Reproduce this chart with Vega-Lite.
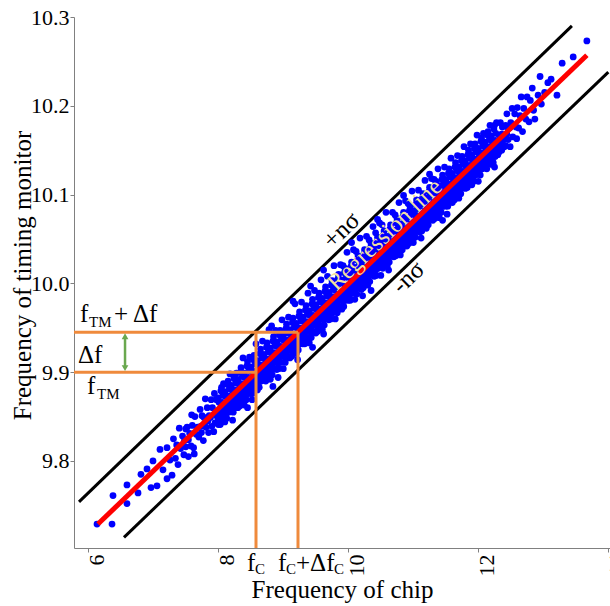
{
"$schema":"https://vega.github.io/schema/vega-lite/v6.json",
"width":536,"height":531,
"autosize":{"type":"none"},
"padding":{"left":74,"top":17,"right":0,"bottom":58},
"background":"white",
"config":{"view":{"stroke":null},"font":"Liberation Serif","text":{"font":"Liberation Serif"}},
"datasets":{
"pts":[
{"x":6.134,"y":9.729},{"x":6.365,"y":9.729},{"x":6.38,"y":9.761},{"x":6.595,"y":9.773},{"x":6.595,"y":9.752},{"x":6.765,"y":9.764},{"x":6.81,"y":9.785},{"x":6.903,"y":9.791},{"x":6.965,"y":9.770},{"x":6.995,"y":9.800},{"x":7.057,"y":9.772},{"x":7.103,"y":9.813},{"x":7.149,"y":9.790},{"x":7.211,"y":9.780},{"x":7.211,"y":9.815},{"x":7.288,"y":9.784},{"x":7.257,"y":9.801},
{"x":7.31,"y":9.825},{"x":7.34,"y":9.803},{"x":7.36,"y":9.818},{"x":7.38,"y":9.796},
{"x":7.40,"y":9.837},{"x":7.42,"y":9.814},{"x":7.45,"y":9.828},{"x":7.47,"y":9.807},{"x":7.48,"y":9.823},
{"x":7.50,"y":9.816},{"x":7.52,"y":9.838},{"x":7.54,"y":9.805},{"x":7.56,"y":9.831},{"x":7.58,"y":9.817},{"x":7.59,"y":9.852},{"x":7.54,"y":9.824},{"x":7.50,"y":9.836},
{"x":7.60,"y":9.840},{"x":7.62,"y":9.815},{"x":7.63,"y":9.808},{"x":7.64,"y":9.850},{"x":7.66,"y":9.830},{"x":7.68,"y":9.838},
{"x":7.70,"y":9.827},{"x":7.72,"y":9.858},{"x":7.73,"y":9.839},{"x":7.75,"y":9.851},{"x":7.77,"y":9.823},{"x":7.78,"y":9.849},{"x":7.74,"y":9.832},
{"x":7.80,"y":9.870},{"x":7.81,"y":9.838},{"x":7.83,"y":9.860},{"x":7.85,"y":9.832},{"x":7.86,"y":9.851},{"x":7.88,"y":9.849},{"x":7.89,"y":9.869},{"x":7.84,"y":9.845},
{"x":7.90,"y":9.839},{"x":7.91,"y":9.860},{"x":7.93,"y":9.833},{"x":7.94,"y":9.876},{"x":7.96,"y":9.852},{"x":7.97,"y":9.869},{"x":7.99,"y":9.849},{"x":7.95,"y":9.843},
{"x":8.00,"y":9.841},{"x":8.01,"y":9.866},{"x":8.03,"y":9.853},{"x":8.04,"y":9.879},{"x":8.05,"y":9.861},{"x":8.06,"y":9.848},{"x":8.07,"y":9.874},{"x":8.09,"y":9.860},{"x":8.08,"y":9.887},
{"x":8.10,"y":9.844},{"x":8.11,"y":9.873},{"x":8.13,"y":9.860},{"x":8.14,"y":9.886},{"x":8.15,"y":9.868},{"x":8.16,"y":9.855},{"x":8.17,"y":9.881},{"x":8.19,"y":9.867},{"x":8.18,"y":9.898},
{"x":8.20,"y":9.857},{"x":8.21,"y":9.880},{"x":8.23,"y":9.867},{"x":8.24,"y":9.893},{"x":8.25,"y":9.875},{"x":8.26,"y":9.862},{"x":8.27,"y":9.888},{"x":8.29,"y":9.874},{"x":8.28,"y":9.899},{"x":8.22,"y":9.846},
{"x":8.30,"y":9.860},{"x":8.31,"y":9.887},{"x":8.33,"y":9.874},{"x":8.34,"y":9.900},{"x":8.35,"y":9.883},{"x":8.36,"y":9.869},{"x":8.37,"y":9.895},{"x":8.39,"y":9.881},{"x":8.38,"y":9.916},
{"x":8.40,"y":9.863},{"x":8.41,"y":9.894},{"x":8.43,"y":9.881},{"x":8.44,"y":9.907},{"x":8.45,"y":9.890},{"x":8.46,"y":9.876},{"x":8.47,"y":9.902},{"x":8.49,"y":9.888},{"x":8.48,"y":9.917},
{"x":8.50,"y":9.876},{"x":8.51,"y":9.901},{"x":8.53,"y":9.888},{"x":8.54,"y":9.914},{"x":8.55,"y":9.897},{"x":8.56,"y":9.883},{"x":8.57,"y":9.909},{"x":8.59,"y":9.895},{"x":8.58,"y":9.932},{"x":8.52,"y":9.869},
{"x":8.60,"y":9.880},{"x":8.61,"y":9.908},{"x":8.63,"y":9.895},{"x":8.64,"y":9.921},{"x":8.65,"y":9.904},{"x":8.66,"y":9.890},{"x":8.67,"y":9.916},{"x":8.69,"y":9.902},{"x":8.68,"y":9.935},
{"x":8.70,"y":9.891},{"x":8.71,"y":9.915},{"x":8.73,"y":9.902},{"x":8.74,"y":9.928},{"x":8.75,"y":9.911},{"x":8.76,"y":9.897},{"x":8.77,"y":9.923},{"x":8.79,"y":9.909},{"x":8.78,"y":9.948},
{"x":8.80,"y":9.892},{"x":8.81,"y":9.922},{"x":8.83,"y":9.909},{"x":8.84,"y":9.935},{"x":8.85,"y":9.918},{"x":8.86,"y":9.904},{"x":8.87,"y":9.930},{"x":8.89,"y":9.916},{"x":8.88,"y":9.947},{"x":8.82,"y":9.952},{"x":8.84,"y":9.884},
{"x":8.90,"y":9.903},{"x":8.91,"y":9.929},{"x":8.93,"y":9.916},{"x":8.94,"y":9.942},{"x":8.95,"y":9.925},{"x":8.96,"y":9.911},{"x":8.97,"y":9.937},{"x":8.99,"y":9.923},{"x":8.98,"y":9.959},{"x":8.92,"y":9.894},
{"x":9.00,"y":9.904},{"x":9.01,"y":9.936},{"x":9.03,"y":9.923},{"x":9.04,"y":9.949},{"x":9.05,"y":9.932},{"x":9.06,"y":9.918},{"x":9.07,"y":9.944},{"x":9.09,"y":9.930},{"x":9.08,"y":9.962},
{"x":9.10,"y":9.916},{"x":9.11,"y":9.943},{"x":9.13,"y":9.930},{"x":9.14,"y":9.956},{"x":9.15,"y":9.939},{"x":9.16,"y":9.925},{"x":9.17,"y":9.951},{"x":9.19,"y":9.937},{"x":9.18,"y":9.977},
{"x":9.20,"y":9.921},{"x":9.21,"y":9.950},{"x":9.23,"y":9.937},{"x":9.24,"y":9.963},{"x":9.25,"y":9.946},{"x":9.26,"y":9.932},{"x":9.27,"y":9.958},{"x":9.29,"y":9.944},{"x":9.28,"y":9.979},{"x":9.22,"y":9.914},
{"x":9.30,"y":9.932},{"x":9.31,"y":9.957},{"x":9.33,"y":9.944},{"x":9.34,"y":9.970},{"x":9.35,"y":9.953},{"x":9.36,"y":9.939},{"x":9.37,"y":9.965},{"x":9.39,"y":9.951},{"x":9.38,"y":9.989},
{"x":9.40,"y":9.933},{"x":9.41,"y":9.964},{"x":9.43,"y":9.951},{"x":9.44,"y":9.977},{"x":9.45,"y":9.960},{"x":9.46,"y":9.946},{"x":9.47,"y":9.972},{"x":9.49,"y":9.958},{"x":9.48,"y":9.992},{"x":9.42,"y":9.997},
{"x":9.50,"y":9.944},{"x":9.51,"y":9.971},{"x":9.53,"y":9.958},{"x":9.54,"y":9.984},{"x":9.55,"y":9.967},{"x":9.56,"y":9.953},{"x":9.57,"y":9.979},{"x":9.59,"y":9.966},{"x":9.58,"y":10.004},
{"x":9.60,"y":9.948},{"x":9.61,"y":9.978},{"x":9.63,"y":9.965},{"x":9.64,"y":9.991},{"x":9.65,"y":9.974},{"x":9.66,"y":9.960},{"x":9.67,"y":9.986},{"x":9.69,"y":9.973},{"x":9.68,"y":10.008},{"x":9.62,"y":9.943},
{"x":9.70,"y":9.959},{"x":9.71,"y":9.985},{"x":9.73,"y":9.972},{"x":9.74,"y":9.998},{"x":9.75,"y":9.981},{"x":9.76,"y":9.967},{"x":9.77,"y":9.993},{"x":9.79,"y":9.980},{"x":9.78,"y":10.020},
{"x":9.80,"y":9.960},{"x":9.81,"y":9.992},{"x":9.83,"y":9.979},{"x":9.84,"y":10.005},{"x":9.85,"y":9.988},{"x":9.86,"y":9.974},{"x":9.87,"y":10.000},{"x":9.89,"y":9.987},{"x":9.88,"y":10.021},
{"x":9.90,"y":9.971},{"x":9.91,"y":9.999},{"x":9.93,"y":9.986},{"x":9.94,"y":10.012},{"x":9.95,"y":9.995},{"x":9.96,"y":9.981},{"x":9.97,"y":10.007},{"x":9.99,"y":9.994},{"x":9.98,"y":10.035},{"x":9.92,"y":10.020},
{"x":10.00,"y":9.981},{"x":10.01,"y":10.006},{"x":10.03,"y":9.993},{"x":10.04,"y":10.019},{"x":10.05,"y":10.002},{"x":10.06,"y":9.989},{"x":10.07,"y":10.014},{"x":10.09,"y":10.001},{"x":10.08,"y":10.038},
{"x":10.10,"y":9.982},{"x":10.11,"y":10.013},{"x":10.13,"y":10.000},{"x":10.14,"y":10.026},{"x":10.15,"y":10.009},{"x":10.16,"y":9.996},{"x":10.17,"y":10.021},{"x":10.19,"y":10.008},{"x":10.18,"y":10.051},{"x":10.12,"y":10.036},
{"x":10.20,"y":9.993},{"x":10.21,"y":10.020},{"x":10.23,"y":10.007},{"x":10.24,"y":10.033},{"x":10.25,"y":10.016},{"x":10.26,"y":10.003},{"x":10.27,"y":10.028},{"x":10.29,"y":10.015},{"x":10.28,"y":10.053},{"x":10.22,"y":9.986},
{"x":10.30,"y":9.998},{"x":10.31,"y":10.027},{"x":10.33,"y":10.014},{"x":10.34,"y":10.040},{"x":10.35,"y":10.023},{"x":10.36,"y":10.010},{"x":10.37,"y":10.035},{"x":10.39,"y":10.022},{"x":10.38,"y":10.064},{"x":10.32,"y":10.049},
{"x":10.40,"y":10.008},{"x":10.41,"y":10.034},{"x":10.43,"y":10.021},{"x":10.44,"y":10.047},{"x":10.45,"y":10.030},{"x":10.46,"y":10.017},{"x":10.47,"y":10.042},{"x":10.49,"y":10.029},{"x":10.48,"y":10.068},{"x":10.42,"y":10.057},
{"x":10.50,"y":10.009},{"x":10.51,"y":10.041},{"x":10.53,"y":10.029},{"x":10.54,"y":10.054},{"x":10.55,"y":10.037},{"x":10.56,"y":10.024},{"x":10.57,"y":10.049},{"x":10.59,"y":10.036},{"x":10.58,"y":10.080},{"x":10.52,"y":10.066},
{"x":10.60,"y":10.020},{"x":10.61,"y":10.048},{"x":10.63,"y":10.036},{"x":10.64,"y":10.061},{"x":10.65,"y":10.044},{"x":10.66,"y":10.031},{"x":10.67,"y":10.056},{"x":10.69,"y":10.043},{"x":10.68,"y":10.080},{"x":10.62,"y":10.015},
{"x":10.70,"y":10.030},{"x":10.71,"y":10.055},{"x":10.73,"y":10.043},{"x":10.74,"y":10.068},{"x":10.75,"y":10.051},{"x":10.76,"y":10.038},{"x":10.77,"y":10.063},{"x":10.79,"y":10.050},{"x":10.78,"y":10.091},{"x":10.72,"y":10.077},
{"x":10.80,"y":10.032},{"x":10.81,"y":10.062},{"x":10.83,"y":10.050},{"x":10.84,"y":10.075},{"x":10.85,"y":10.058},{"x":10.86,"y":10.045},{"x":10.87,"y":10.070},{"x":10.89,"y":10.057},{"x":10.88,"y":10.093},
{"x":10.90,"y":10.042},{"x":10.91,"y":10.069},{"x":10.93,"y":10.057},{"x":10.94,"y":10.082},{"x":10.95,"y":10.065},{"x":10.96,"y":10.052},{"x":10.97,"y":10.077},{"x":10.99,"y":10.064},{"x":10.98,"y":10.104},{"x":10.92,"y":10.090},
{"x":11.00,"y":10.046},{"x":11.01,"y":10.076},{"x":11.03,"y":10.064},{"x":11.04,"y":10.089},{"x":11.05,"y":10.072},{"x":11.06,"y":10.059},{"x":11.07,"y":10.084},{"x":11.09,"y":10.071},{"x":11.08,"y":10.105},
{"x":11.10,"y":10.058},{"x":11.11,"y":10.083},{"x":11.13,"y":10.071},{"x":11.14,"y":10.096},{"x":11.15,"y":10.079},{"x":11.16,"y":10.066},{"x":11.17,"y":10.091},{"x":11.19,"y":10.078},{"x":11.18,"y":10.116},{"x":11.12,"y":10.051},
{"x":11.20,"y":10.062},{"x":11.21,"y":10.090},{"x":11.23,"y":10.078},{"x":11.24,"y":10.103},{"x":11.25,"y":10.086},{"x":11.26,"y":10.073},{"x":11.27,"y":10.098},{"x":11.29,"y":10.085},{"x":11.28,"y":10.118},
{"x":11.30,"y":10.071},{"x":11.31,"y":10.097},{"x":11.33,"y":10.085},{"x":11.34,"y":10.110},{"x":11.35,"y":10.093},{"x":11.36,"y":10.080},{"x":11.37,"y":10.105},{"x":11.39,"y":10.092},{"x":11.38,"y":10.129},{"x":11.32,"y":10.117},
{"x":11.40,"y":10.074},{"x":11.41,"y":10.104},{"x":11.43,"y":10.092},{"x":11.44,"y":10.117},{"x":11.45,"y":10.100},{"x":11.46,"y":10.087},{"x":11.47,"y":10.112},{"x":11.49,"y":10.099},{"x":11.48,"y":10.131},
{"x":11.50,"y":10.087},{"x":11.51,"y":10.111},{"x":11.53,"y":10.099},{"x":11.54,"y":10.124},{"x":11.55,"y":10.107},{"x":11.56,"y":10.094},{"x":11.57,"y":10.120},{"x":11.59,"y":10.106},{"x":11.58,"y":10.141},{"x":11.52,"y":10.078},
{"x":11.60,"y":10.091},{"x":11.61,"y":10.118},{"x":11.63,"y":10.106},{"x":11.64,"y":10.131},{"x":11.65,"y":10.114},{"x":11.66,"y":10.101},{"x":11.67,"y":10.127},{"x":11.69,"y":10.113},{"x":11.68,"y":10.144},
{"x":11.70,"y":10.096},{"x":11.71,"y":10.125},{"x":11.73,"y":10.113},{"x":11.74,"y":10.138},{"x":11.75,"y":10.121},{"x":11.76,"y":10.108},{"x":11.77,"y":10.134},{"x":11.79,"y":10.120},{"x":11.78,"y":10.154},
{"x":11.80,"y":10.107},{"x":11.81,"y":10.132},{"x":11.83,"y":10.120},{"x":11.84,"y":10.145},{"x":11.85,"y":10.128},{"x":11.86,"y":10.115},{"x":11.87,"y":10.141},{"x":11.89,"y":10.127},{"x":11.88,"y":10.157},
{"x":11.90,"y":10.111},{"x":11.91,"y":10.139},{"x":11.93,"y":10.127},{"x":11.94,"y":10.152},{"x":11.95,"y":10.135},{"x":11.96,"y":10.122},{"x":11.97,"y":10.148},{"x":11.99,"y":10.134},{"x":11.98,"y":10.167},
{"x":12.00,"y":10.115},{"x":12.01,"y":10.146},{"x":12.03,"y":10.134},{"x":12.04,"y":10.160},{"x":12.05,"y":10.142},{"x":12.06,"y":10.129},{"x":12.07,"y":10.155},{"x":12.09,"y":10.141},{"x":12.08,"y":10.169},
{"x":12.10,"y":10.130},{"x":12.11,"y":10.153},{"x":12.13,"y":10.141},{"x":12.14,"y":10.167},{"x":12.16,"y":10.136},{"x":12.17,"y":10.162},{"x":12.19,"y":10.148},{"x":12.18,"y":10.178},
{"x":12.20,"y":10.134},{"x":12.21,"y":10.160},{"x":12.23,"y":10.148},{"x":12.24,"y":10.174},{"x":12.26,"y":10.143},{"x":12.27,"y":10.169},{"x":12.29,"y":10.155},{"x":12.28,"y":10.181},
{"x":12.30,"y":10.145},{"x":12.32,"y":10.167},{"x":12.34,"y":10.181},{"x":12.36,"y":10.150},{"x":12.37,"y":10.176},{"x":12.39,"y":10.162},{"x":12.35,"y":10.157},
{"x":12.40,"y":10.154},{"x":12.42,"y":10.178},{"x":12.44,"y":10.191},{"x":12.46,"y":10.162},{"x":12.48,"y":10.175},{"x":12.49,"y":10.154},
{"x":12.50,"y":10.181},{"x":12.52,"y":10.197},{"x":12.53,"y":10.165},{"x":12.56,"y":10.191},{"x":12.58,"y":10.176},{"x":12.59,"y":10.163},
{"x":12.60,"y":10.198},{"x":12.62,"y":10.175},{"x":12.64,"y":10.189},{"x":12.66,"y":10.210},{"x":12.68,"y":10.171},
{"x":12.70,"y":10.197},{"x":12.73,"y":10.185},{"x":12.75,"y":10.210},{"x":12.78,"y":10.182},
{"x":12.80,"y":10.206},{"x":12.83,"y":10.220},{"x":12.85,"y":10.195},{"x":12.87,"y":10.185},
{"x":12.92,"y":10.212},{"x":12.95,"y":10.233},{"x":12.97,"y":10.202},
{"x":13.02,"y":10.215},{"x":13.07,"y":10.226},{"x":13.12,"y":10.230},{"x":13.21,"y":10.212},{"x":13.29,"y":10.248},{"x":13.46,"y":10.255},{"x":13.67,"y":10.273},
{"x":8.02,"y":9.846},{"x":8.04,"y":9.859},{"x":8.06,"y":9.866},{"x":8.08,"y":9.855},{"x":8.00,"y":9.871},{"x":8.05,"y":9.883},{"x":8.03,"y":9.841},
{"x":8.12,"y":9.853},{"x":8.14,"y":9.866},{"x":8.16,"y":9.873},{"x":8.18,"y":9.862},{"x":8.10,"y":9.878},{"x":8.15,"y":9.890},{"x":8.13,"y":9.848},
{"x":8.22,"y":9.860},{"x":8.24,"y":9.873},{"x":8.26,"y":9.880},{"x":8.28,"y":9.869},{"x":8.20,"y":9.885},{"x":8.25,"y":9.897},{"x":8.23,"y":9.855},
{"x":8.32,"y":9.867},{"x":8.34,"y":9.880},{"x":8.36,"y":9.887},{"x":8.38,"y":9.876},{"x":8.30,"y":9.892},{"x":8.35,"y":9.905},{"x":8.33,"y":9.862},
{"x":8.42,"y":9.874},{"x":8.44,"y":9.887},{"x":8.46,"y":9.894},{"x":8.48,"y":9.883},{"x":8.40,"y":9.899},{"x":8.45,"y":9.912},{"x":8.43,"y":9.869},
{"x":8.52,"y":9.881},{"x":8.54,"y":9.894},{"x":8.56,"y":9.901},{"x":8.58,"y":9.890},{"x":8.50,"y":9.906},{"x":8.55,"y":9.919},{"x":8.53,"y":9.876},
{"x":8.62,"y":9.888},{"x":8.64,"y":9.901},{"x":8.66,"y":9.908},{"x":8.68,"y":9.897},{"x":8.60,"y":9.913},{"x":8.65,"y":9.926},{"x":8.63,"y":9.883},
{"x":8.72,"y":9.895},{"x":8.74,"y":9.908},{"x":8.76,"y":9.915},{"x":8.78,"y":9.904},{"x":8.70,"y":9.920},{"x":8.75,"y":9.933},{"x":8.73,"y":9.890},
{"x":8.82,"y":9.902},{"x":8.84,"y":9.915},{"x":8.86,"y":9.922},{"x":8.88,"y":9.911},{"x":8.80,"y":9.927},{"x":8.85,"y":9.940},{"x":8.83,"y":9.897},
{"x":8.92,"y":9.910},{"x":8.94,"y":9.922},{"x":8.96,"y":9.929},{"x":8.98,"y":9.918},{"x":8.90,"y":9.934},{"x":8.95,"y":9.947},{"x":8.93,"y":9.904},
{"x":9.02,"y":9.917},{"x":9.04,"y":9.929},{"x":9.06,"y":9.936},{"x":9.08,"y":9.925},{"x":9.00,"y":9.941},{"x":9.05,"y":9.954},{"x":9.03,"y":9.911},
{"x":9.12,"y":9.924},{"x":9.14,"y":9.936},{"x":9.16,"y":9.943},{"x":9.18,"y":9.932},{"x":9.10,"y":9.948},{"x":9.15,"y":9.961},{"x":9.13,"y":9.918},
{"x":9.22,"y":9.931},{"x":9.24,"y":9.943},{"x":9.26,"y":9.950},{"x":9.28,"y":9.939},{"x":9.20,"y":9.955},{"x":9.25,"y":9.968},{"x":9.23,"y":9.925},
{"x":9.32,"y":9.938},{"x":9.34,"y":9.950},{"x":9.36,"y":9.957},{"x":9.38,"y":9.946},{"x":9.30,"y":9.962},{"x":9.35,"y":9.975},{"x":9.33,"y":9.932},
{"x":9.42,"y":9.945},{"x":9.44,"y":9.957},{"x":9.46,"y":9.964},{"x":9.48,"y":9.953},{"x":9.40,"y":9.969},{"x":9.45,"y":9.982},{"x":9.43,"y":9.939},
{"x":9.52,"y":9.952},{"x":9.54,"y":9.964},{"x":9.56,"y":9.971},{"x":9.58,"y":9.960},{"x":9.50,"y":9.976},{"x":9.55,"y":9.989},{"x":9.53,"y":9.946},
{"x":9.62,"y":9.959},{"x":9.64,"y":9.971},{"x":9.66,"y":9.978},{"x":9.68,"y":9.967},{"x":9.60,"y":9.983},{"x":9.65,"y":9.996},{"x":9.63,"y":9.953},
{"x":9.72,"y":9.966},{"x":9.74,"y":9.978},{"x":9.76,"y":9.985},{"x":9.78,"y":9.974},{"x":9.70,"y":9.990},{"x":9.75,"y":10.003},{"x":9.73,"y":9.960},
{"x":9.82,"y":9.973},{"x":9.84,"y":9.985},{"x":9.86,"y":9.992},{"x":9.88,"y":9.981},{"x":9.80,"y":9.997},{"x":9.85,"y":10.010},{"x":9.83,"y":9.967},
{"x":9.92,"y":9.980},{"x":9.94,"y":9.992},{"x":9.96,"y":9.999},{"x":9.98,"y":9.988},{"x":9.90,"y":10.004},{"x":9.95,"y":10.017},{"x":9.93,"y":9.974},
{"x":10.02,"y":9.987},{"x":10.04,"y":9.999},{"x":10.06,"y":10.007},{"x":10.08,"y":9.995},{"x":10.00,"y":10.011},{"x":10.05,"y":10.024},{"x":10.03,"y":9.981},
{"x":10.12,"y":9.994},{"x":10.14,"y":10.006},{"x":10.16,"y":10.014},{"x":10.18,"y":10.002},{"x":10.10,"y":10.018},{"x":10.15,"y":10.031},{"x":10.13,"y":9.988},
{"x":10.22,"y":10.001},{"x":10.24,"y":10.013},{"x":10.26,"y":10.021},{"x":10.28,"y":10.009},{"x":10.20,"y":10.025},{"x":10.25,"y":10.038},{"x":10.23,"y":9.995},
{"x":10.32,"y":10.008},{"x":10.34,"y":10.020},{"x":10.36,"y":10.028},{"x":10.38,"y":10.016},{"x":10.30,"y":10.032},{"x":10.35,"y":10.045},{"x":10.33,"y":10.002},
{"x":10.42,"y":10.015},{"x":10.44,"y":10.027},{"x":10.46,"y":10.035},{"x":10.48,"y":10.023},{"x":10.40,"y":10.039},{"x":10.45,"y":10.052},{"x":10.43,"y":10.009},
{"x":10.52,"y":10.022},{"x":10.54,"y":10.034},{"x":10.56,"y":10.042},{"x":10.58,"y":10.030},{"x":10.50,"y":10.046},{"x":10.55,"y":10.059},{"x":10.53,"y":10.017},
{"x":10.62,"y":10.029},{"x":10.64,"y":10.041},{"x":10.66,"y":10.049},{"x":10.68,"y":10.037},{"x":10.60,"y":10.053},{"x":10.65,"y":10.066},{"x":10.63,"y":10.024},
{"x":10.72,"y":10.036},{"x":10.74,"y":10.048},{"x":10.76,"y":10.056},{"x":10.78,"y":10.044},{"x":10.70,"y":10.060},{"x":10.75,"y":10.073},{"x":10.73,"y":10.031},
{"x":10.82,"y":10.043},{"x":10.84,"y":10.055},{"x":10.86,"y":10.063},{"x":10.88,"y":10.051},{"x":10.80,"y":10.067},{"x":10.85,"y":10.080},{"x":10.83,"y":10.038},
{"x":10.92,"y":10.050},{"x":10.94,"y":10.062},{"x":10.96,"y":10.070},{"x":10.98,"y":10.058},{"x":10.90,"y":10.074},{"x":10.95,"y":10.087},{"x":10.93,"y":10.045},
{"x":11.02,"y":10.057},{"x":11.04,"y":10.069},{"x":11.06,"y":10.077},{"x":11.08,"y":10.065},{"x":11.00,"y":10.082},{"x":11.05,"y":10.094},{"x":11.03,"y":10.052},
{"x":11.12,"y":10.064},{"x":11.14,"y":10.076},{"x":11.16,"y":10.084},{"x":11.18,"y":10.072},{"x":11.10,"y":10.089},{"x":11.15,"y":10.101},{"x":11.13,"y":10.059},
{"x":11.22,"y":10.071},{"x":11.24,"y":10.083},{"x":11.26,"y":10.091},{"x":11.28,"y":10.079},{"x":11.20,"y":10.096},{"x":11.25,"y":10.108},{"x":11.23,"y":10.066},
{"x":11.32,"y":10.078},{"x":11.34,"y":10.090},{"x":11.36,"y":10.098},{"x":11.38,"y":10.086},{"x":11.30,"y":10.103},{"x":11.35,"y":10.115},{"x":11.33,"y":10.073},
{"x":11.42,"y":10.085},{"x":11.44,"y":10.097},{"x":11.46,"y":10.105},{"x":11.48,"y":10.093},{"x":11.40,"y":10.110},{"x":11.45,"y":10.122},{"x":11.43,"y":10.080},
{"x":11.52,"y":10.092},{"x":11.54,"y":10.104},{"x":11.56,"y":10.112},{"x":11.58,"y":10.100},{"x":11.50,"y":10.117},{"x":11.55,"y":10.129},{"x":11.53,"y":10.087},
{"x":11.62,"y":10.099},{"x":11.64,"y":10.111},{"x":11.66,"y":10.119},{"x":11.68,"y":10.107},{"x":11.60,"y":10.124},{"x":11.65,"y":10.136},{"x":11.63,"y":10.094},
{"x":11.72,"y":10.106},{"x":11.74,"y":10.118},{"x":11.76,"y":10.126},{"x":11.78,"y":10.114},{"x":11.70,"y":10.131},{"x":11.75,"y":10.143},{"x":11.73,"y":10.101},
{"x":11.82,"y":10.113},{"x":11.84,"y":10.125},{"x":11.86,"y":10.133},{"x":11.88,"y":10.121},{"x":11.80,"y":10.138},{"x":11.85,"y":10.150},{"x":11.83,"y":10.108},
{"x":11.92,"y":10.120},{"x":11.94,"y":10.132},{"x":11.96,"y":10.140},{"x":11.98,"y":10.128},{"x":11.90,"y":10.145},{"x":11.95,"y":10.157},{"x":11.93,"y":10.115},
{"x":12.02,"y":10.127},{"x":12.04,"y":10.139},{"x":12.06,"y":10.147},{"x":12.08,"y":10.135},{"x":12.00,"y":10.152},{"x":12.05,"y":10.164},{"x":12.03,"y":10.122},
{"x":12.12,"y":10.134},{"x":12.14,"y":10.146},{"x":12.16,"y":10.154},{"x":12.18,"y":10.142},{"x":12.10,"y":10.159},{"x":12.15,"y":10.171},{"x":12.13,"y":10.129},
{"x":12.22,"y":10.141},{"x":12.24,"y":10.153},{"x":12.26,"y":10.161},{"x":12.28,"y":10.149},{"x":12.20,"y":10.166},{"x":12.25,"y":10.178},{"x":12.23,"y":10.136},
{"x":12.32,"y":10.148},{"x":12.34,"y":10.160},{"x":12.36,"y":10.168},{"x":12.38,"y":10.156},
{"x":12.42,"y":10.155},{"x":12.44,"y":10.168},{"x":12.46,"y":10.175},
{"x":9.15,"y":9.980},{"x":9.62,"y":10.015},{"x":10.05,"y":10.046},{"x":10.45,"y":10.072},{"x":10.85,"y":10.099},{"x":11.25,"y":10.123},
{"x":8.45,"y":9.860},{"x":9.45,"y":9.928},{"x":10.35,"y":9.992},{"x":11.45,"y":10.071},{"x":12.25,"y":10.131}
],
"bounds":[{"x":5.857,"y":9.754,"x2":13.44,"y2":10.290},{"x":6.549,"y":9.714,"x2":14.0,"y2":10.238}],
"reg":[{"x":6.149,"y":9.729,"x2":13.67,"y2":10.257}],
"orange":[{"x":5.78,"y":9.9,"x2":8.58,"y2":9.9},{"x":5.78,"y":9.945,"x2":9.226,"y2":9.945},{"x":8.58,"y":9.702,"x2":8.58,"y2":9.945},{"x":9.226,"y":9.702,"x2":9.226,"y2":9.945}],
"arrow":[{"x":6.565,"y":9.905,"x2":6.565,"y2":9.940}],
"headUp":[{"x":6.565,"y":9.9405}],
"headDown":[{"x":6.565,"y":9.9045}],
"mainText":[{"x":5.8723,"y":9.9565,"t":"f"},{"x":6.3954,"y":9.9565,"t":"+ Δf"},{"x":5.8415,"y":9.9103,"t":"Δf"},{"x":5.98,"y":9.8754,"t":"f"},{"x":8.4415,"y":9.6764,"t":"f"},{"x":8.9185,"y":9.6764,"t":"f"},{"x":9.1954,"y":9.6764,"t":"+Δf"}],
"subText":[{"x":6.0108,"y":9.9509,"t":"TM"},{"x":6.134,"y":9.8698,"t":"TM"},{"x":8.5646,"y":9.6724,"t":"C"},{"x":9.0415,"y":9.6724,"t":"C"},{"x":9.78,"y":9.6724,"t":"C"}],
"sigma":[{"x":9.89,"y":10.060,"t":"+nσ"},{"x":10.918,"y":10.007,"t":"-nσ"}],
"regText":[{"x":10.565,"y":10.0545,"t":"Regression line"}]
},
"encoding":{
"x":{"field":"x","type":"quantitative","scale":{"domain":[5.78,14.026],"nice":false,"zero":false},
"axis":{"values":[6,8,10,12,14],"title":"Frequency of chip","grid":false,"labelAngle":270,"labelFontSize":22,"labelFont":"Liberation Serif","labelColor":"black","labelFlush":false,"labelOverlap":false,"labelPadding":2,"labelOffset":8,"tickSize":4,"tickColor":"#808080","domainColor":"#808080","titleFontSize":25,"titleFont":"Liberation Serif","titleFontWeight":"normal","titleColor":"black","titlePadding":1}},
"y":{"field":"y","type":"quantitative","scale":{"domain":[9.702,10.3],"nice":false,"zero":false},
"axis":{"values":[9.8,9.9,10.0,10.1,10.2,10.3],"format":".1f","title":"Frequency of timing monitor","grid":false,"labelFontSize":22,"labelFont":"Liberation Serif","labelColor":"black","labelFlush":false,"labelOverlap":false,"labelPadding":1,"tickSize":4,"tickColor":"#808080","domainColor":"#808080","titleFontSize":25,"titleFont":"Liberation Serif","titleFontWeight":"normal","titleColor":"black","titlePadding":-5,"titleY":258}}
},
"layer":[
{"data":{"name":"bounds"},"mark":{"type":"rule","color":"black","strokeWidth":3},"encoding":{"x2":{"field":"x2"},"y2":{"field":"y2"}}},
{"data":{"name":"pts"},"mark":{"type":"circle","color":"#0000ff","opacity":1,"size":46}},
{"data":{"name":"reg"},"mark":{"type":"rule","color":"#ff0000","strokeWidth":5},"encoding":{"x2":{"field":"x2"},"y2":{"field":"y2"}}},
{"data":{"name":"orange"},"mark":{"type":"rule","color":"#ef8a3c","strokeWidth":3},"encoding":{"x2":{"field":"x2"},"y2":{"field":"y2"}}},
{"data":{"name":"arrow"},"mark":{"type":"rule","color":"#6aa84f","strokeWidth":2.5},"encoding":{"x2":{"field":"x2"},"y2":{"field":"y2"}}},
{"data":{"name":"headUp"},"mark":{"type":"point","shape":"triangle-up","filled":true,"color":"#6aa84f","size":45,"opacity":1}},
{"data":{"name":"headDown"},"mark":{"type":"point","shape":"triangle-down","filled":true,"color":"#6aa84f","size":45,"opacity":1}},
{"data":{"name":"mainText"},"mark":{"type":"text","align":"left","baseline":"alphabetic","fontSize":25,"font":"Liberation Serif","color":"black"},"encoding":{"text":{"field":"t"}}},
{"data":{"name":"subText"},"mark":{"type":"text","align":"left","baseline":"alphabetic","fontSize":15,"font":"Liberation Serif","color":"black"},"encoding":{"text":{"field":"t"}}},
{"data":{"name":"sigma"},"mark":{"type":"text","align":"center","baseline":"middle","fontSize":25,"angle":-44,"font":"Liberation Serif","color":"black"},"encoding":{"text":{"field":"t"}}},
{"data":{"name":"regText"},"mark":{"type":"text","align":"center","baseline":"middle","fontSize":24,"angle":-44,"font":"Liberation Serif","color":"#f2dfa0"},"encoding":{"text":{"field":"t"}}}
]
}
